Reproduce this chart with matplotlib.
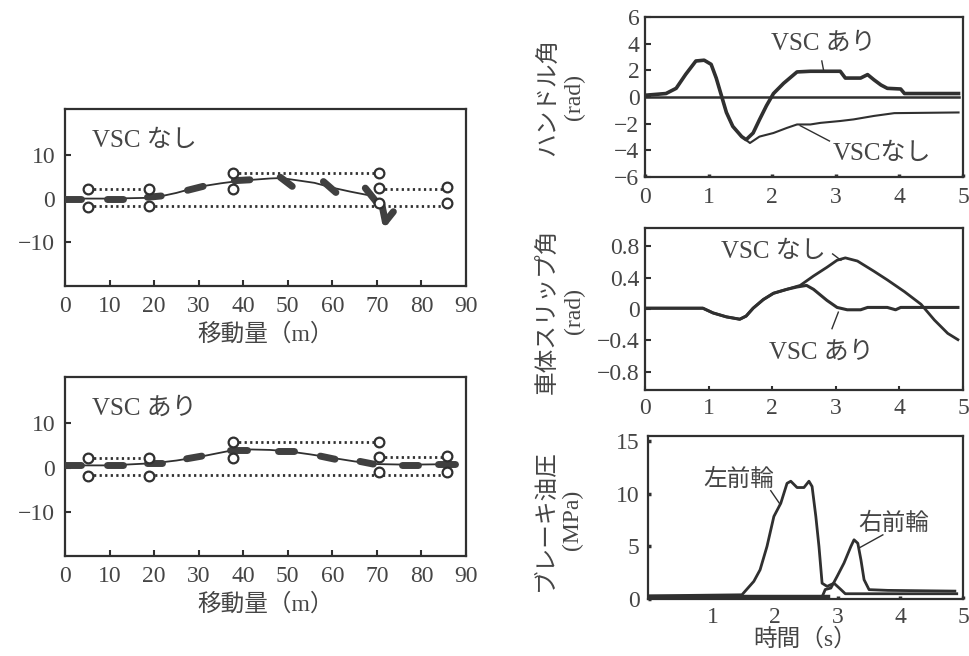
import matplotlib
matplotlib.use("Agg")
import matplotlib.pyplot as plt
import numpy as np

plt.rcParams['font.family'] = ['Liberation Serif', 'Noto Sans CJK JP', 'DejaVu Sans']
plt.rcParams['axes.unicode_minus'] = True

# ---------------- data ----------------
# cones (gates) of the lane-change course, x [m], y [m]
cone_x = [5.2, 5.2, 18.9, 18.9, 37.6, 37.6, 70.5, 70.5, 70.5, 85.7, 85.7]
cone_y = [2.2, -2.0, 2.1, -1.8, 5.8, 2.1, 5.9, 2.4, -1.1, 2.7, -1.1]
# lane boundary (dotted) segments: x0, x1, y
lane_x0 = [5.2, 37.6, 70.5, 5.2]
lane_x1 = [18.9, 70.5, 85.7, 85.7]
lane_y = [2.1, 5.8, 2.3, -1.6]

# VSC なし : vehicle path and vehicle body segments
path1_x = [0, 5, 10, 15, 20, 25, 30, 35, 38, 42, 46, 48.5, 52, 56, 60, 64, 68.5, 70.4]
path1_y = [0, 0, 0, 0.1, 0.2, 1.3, 2.7, 3.5, 3.9, 4.3, 4.6, 4.7, 4.2, 3.6, 2.5, 1.6, 0.7, -1.3]
car1_x0 = [0, 9.5, 18.5, 27.5, 38.0, 48.3, 58.0, 67.4, 71.1, 71.9]
car1_y0 = [0, 0, 0.3, 1.9, 4.1, 4.9, 3.9, 2.4, -1.3, -5.3]
car1_x1 = [3.6, 13.0, 21.6, 31.0, 41.5, 51.0, 60.8, 70.0, 71.9, 73.7]
car1_y1 = [0, 0, 0.6, 2.8, 4.3, 2.8, 1.4, -0.9, -5.3, -3.0]

# VSC あり : vehicle path and vehicle body segments
path2_x = [0, 10, 20, 25, 30, 35, 38, 42, 46, 50, 55, 60, 65, 70, 75, 80, 88]
path2_y = [0.5, 0.5, 1.0, 1.6, 2.4, 3.4, 4.0, 4.1, 4.0, 3.7, 3.0, 2.2, 1.4, 0.8, 0.7, 0.7, 0.8]
car2_x0 = [0, 9.4, 18.3, 27.3, 37.0, 47.9, 57.3, 66.2, 75.6, 83.8]
car2_y0 = [0.5, 0.5, 1.0, 2.0, 4.0, 3.8, 2.6, 1.4, 0.6, 0.8]
car2_x1 = [3.7, 13.0, 21.7, 30.7, 40.8, 51.3, 60.6, 69.2, 79.3, 87.6]
car2_y1 = [0.5, 0.5, 1.0, 2.6, 4.0, 3.8, 1.9, 0.8, 0.6, 0.8]

# steering angle [rad] vs time [s]
st_on_t = [0, 0.33, 0.49, 0.64, 0.8, 0.93, 1.04, 1.12, 1.2, 1.28, 1.38, 1.52, 1.59, 1.7, 1.8,
           1.91, 2.02, 2.18, 2.39, 2.6, 3.07, 3.15, 3.39, 3.5, 3.6, 3.71, 3.81, 4.02, 4.08, 4.93]
st_on_v = [0.13, 0.26, 0.65, 1.7, 2.7, 2.76, 2.45, 1.42, 0.13, -1.16, -2.2, -2.97, -3.2, -2.7, -1.7,
           -0.65, 0.26, 1.03, 1.88, 1.93, 1.93, 1.42, 1.42, 1.68, 1.29, 0.9, 0.65, 0.6, 0.26, 0.26]
st_off_t = [0, 0.33, 0.49, 0.64, 0.8, 0.93, 1.04, 1.12, 1.2, 1.28, 1.38, 1.52, 1.65, 1.8, 2.02,
            2.23, 2.39, 2.6, 2.76, 3.07, 3.28, 3.6, 3.92, 4.93]
st_off_v = [0.13, 0.26, 0.65, 1.7, 2.7, 2.76, 2.45, 1.42, 0.13, -1.16, -2.2, -2.97, -3.45, -2.97, -2.7,
            -2.32, -2.06, -2.06, -1.94, -1.8, -1.68, -1.42, -1.21, -1.16]

# body slip angle [rad] vs time [s]
sl_off_t = [0, 0.91, 1.07, 1.28, 1.49, 1.59, 1.7, 1.86, 2.02, 2.23, 2.44, 2.65, 2.86, 3.02, 3.15,
            3.34, 3.6, 3.81, 4.08, 4.34, 4.55, 4.76, 4.92]
sl_off_v = [0.01, 0.01, -0.05, -0.1, -0.13, -0.09, 0.01, 0.12, 0.2, 0.25, 0.3, 0.42, 0.53, 0.62, 0.65,
            0.61, 0.48, 0.37, 0.22, 0.06, -0.14, -0.31, -0.39]
sl_on_t = [0, 0.91, 1.07, 1.28, 1.49, 1.59, 1.7, 1.86, 2.02, 2.23, 2.39, 2.54, 2.65, 2.86, 3.02,
           3.18, 3.39, 3.5, 3.81, 3.94, 4.02, 4.92]
sl_on_v = [0.01, 0.01, -0.05, -0.1, -0.13, -0.09, 0.01, 0.12, 0.2, 0.25, 0.28, 0.3, 0.25, 0.11, 0.02,
           -0.01, -0.01, 0.02, 0.02, -0.01, 0.02, 0.02]

# brake pressure [MPa] vs time [s]
bl_t = [0, 1.47, 1.66, 1.76, 1.87, 1.98, 2.09, 2.19, 2.25, 2.35, 2.46, 2.54, 2.59, 2.65, 2.7,
        2.75, 2.83, 2.94, 3.05, 3.12, 3.2, 4.9]
bl_v = [0.3, 0.4, 1.68, 2.78, 5.0, 7.85, 9.1, 11.0, 11.2, 10.6, 10.6, 11.2, 10.7, 7.85, 5.0,
        1.5, 1.2, 1.5, 0.9, 0.5, 0.5, 0.5]
br_t = [0, 2.75, 2.8, 2.89, 2.99, 3.1, 3.21, 3.26, 3.32, 3.37, 3.42, 3.5, 3.8, 4.87]
br_v = [0.2, 0.2, 0.9, 1.04, 2.15, 3.42, 5.0, 5.63, 5.3, 3.73, 1.84, 0.89, 0.82, 0.75]

# ---------------- styling ----------------
LC = '#303030'
TC = '#454545'
FS = 17

W, H = 969, 656
fig = plt.figure(figsize=(W / 100, H / 100), dpi=100)


def box(x0, y0, x1, y1):
    return [x0 / W, 1 - y1 / H, (x1 - x0) / W, (y1 - y0) / H]


def style(ax):
    for s in ax.spines.values():
        s.set_linewidth(1.6)
        s.set_color(LC)
    ax.tick_params(direction='in', colors=LC, labelcolor=TC, labelsize=FS, width=1.5, length=4)


def course(ax, px, py, cx0, cy0, cx1, cy1, title):
    for x0, x1, y in zip(lane_x0, lane_x1, lane_y):
        ax.plot([x0, x1], [y, y], color=LC, lw=2.0, ls=(0, (0.8, 1.2)), zorder=2)
    ax.plot(px, py, color=LC, lw=1.3, zorder=3)
    for a, b, c, d in zip(cx0, cy0, cx1, cy1):
        ax.plot([a, c], [b, d], color='#404040', lw=5, solid_capstyle='round', zorder=4)
    ax.plot(cone_x, cone_y, 'o', ms=7, mfc='white', mec=LC, mew=1.6, zorder=5)
    ax.set_xlim(0, 90)
    ax.set_ylim(-20, 20.5)
    ax.set_xticks(range(0, 91, 10))
    ax.set_yticks([-10, 0, 10])
    ax.tick_params(axis='x', pad=7)
    ax.tick_params(axis='y', pad=7)
    ax.text(0.067, 0.82, title, transform=ax.transAxes, fontsize=FS + 1, color=TC, va='center')
    ax.set_xlabel('移動量（m）', fontsize=FS, color=TC, labelpad=5)


ax1 = fig.add_axes(box(65, 109, 466, 286))
style(ax1)
course(ax1, path1_x, path1_y, car1_x0, car1_y0, car1_x1, car1_y1, 'VSC なし')

ax2 = fig.add_axes(box(65, 377, 466, 556))
style(ax2)
course(ax2, path2_x, path2_y, car2_x0, car2_y0, car2_x1, car2_y1, 'VSC あり')

# steering
ax3 = fig.add_axes(box(645, 17, 963, 177))
style(ax3)
ax3.axhline(0, color=LC, lw=1.8, xmax=0.986)
ax3.plot(st_off_t, st_off_v, color=LC, lw=1.5)
ax3.plot(st_on_t, st_on_v, color=LC, lw=2.6)
ax3.set_xlim(0, 5)
ax3.set_ylim(-6, 6)
ax3.set_yticks([-6, -4, -2, 0, 2, 4, 6])
ax3.set_xticks([0, 1, 2, 3, 4, 5])
ax3.tick_params(axis='x', length=2, width=2.5, pad=7)
ax3.tick_params(axis='y', pad=4)
ax3.text(2.81, 4.0, 'VSC あり', fontsize=FS + 1, color=TC, ha='center', va='center')
ax3.plot([2.78, 2.81], [2.7, 1.95], color=LC, lw=1)
ax3.text(3.72, -4.25, 'VSCなし', fontsize=FS + 1, color=TC, ha='center', va='center')
ax3.plot([2.44, 2.9], [-2.15, -3.3], color=LC, lw=1)
fig.text(561 / W, 1 - 97 / H, 'ハンドル角\n(rad)', rotation=90, ha='center', va='center',
         multialignment='center', fontsize=FS, color=TC, linespacing=1.3)

# slip angle
ax4 = fig.add_axes(box(645, 228, 963, 390))
style(ax4)
ax4.plot(sl_off_t, sl_off_v, color=LC, lw=2.0)
ax4.plot(sl_on_t, sl_on_v, color=LC, lw=2.2)
ax4.set_xlim(0, 5)
ax4.set_ylim(-1.03, 1.03)
ax4.set_yticks([-0.8, -0.4, 0, 0.4, 0.8])
ax4.set_yticklabels(['\u22120.8', '\u22120.4', '0', '0.4', '0.8'])
ax4.set_xticks([0, 1, 2, 3, 4, 5])
ax4.tick_params(axis='x', length=3, width=1.5, pad=6)
ax4.tick_params(axis='y', pad=4)
ax4.text(2.02, 0.73, 'VSC なし', fontsize=FS + 1, color=TC, ha='center', va='center')
ax4.plot([2.95, 3.08], [0.7, 0.62], color=LC, lw=1)
ax4.text(2.78, -0.55, 'VSC あり', fontsize=FS + 1, color=TC, ha='center', va='center')
ax4.plot([2.94, 3.04], [-0.25, -0.04], color=LC, lw=1)
fig.text(561 / W, 1 - 311 / H, '車体スリップ角\n(rad)', rotation=90, ha='center', va='center',
         multialignment='center', fontsize=FS, color=TC, linespacing=1.3)

# brake pressure
ax5 = fig.add_axes(box(648, 436, 963, 599))
style(ax5)
ax5.plot([0, 2.85], [0.15, 0.15], color=LC, lw=3.2)
ax5.plot(bl_t, bl_v, color=LC, lw=2.0)
ax5.plot(br_t, br_v, color=LC, lw=2.0)
ax5.set_xlim(-0.03, 5)
ax5.set_ylim(0, 15.5)
ax5.set_yticks([0, 5, 10, 15])
ax5.set_xticks([1, 2, 3, 4, 5])
ax5.tick_params(axis='x', length=2, width=2.5, pad=6)
ax5.tick_params(axis='y', length=2, width=2.5, pad=6)
ax5.text(1.42, 11.3, '左前輪', fontsize=FS, color=TC, ha='center', va='center')
ax5.plot([1.93, 2.08], [10.3, 9.0], color=LC, lw=1)
ax5.text(3.9, 7.1, '右前輪', fontsize=FS, color=TC, ha='center', va='center')
ax5.plot([3.72, 3.34], [6.1, 4.85], color=LC, lw=1)
ax5.set_xlabel('時間（s）', fontsize=FS, color=TC, labelpad=0)
fig.text(559 / W, 1 - 520 / H, 'ブレーキ油圧\n(MPa)', rotation=90, ha='center', va='center',
         multialignment='center', fontsize=FS, color=TC, linespacing=1.3)

fig.savefig('out.png', dpi=100, facecolor='white')
